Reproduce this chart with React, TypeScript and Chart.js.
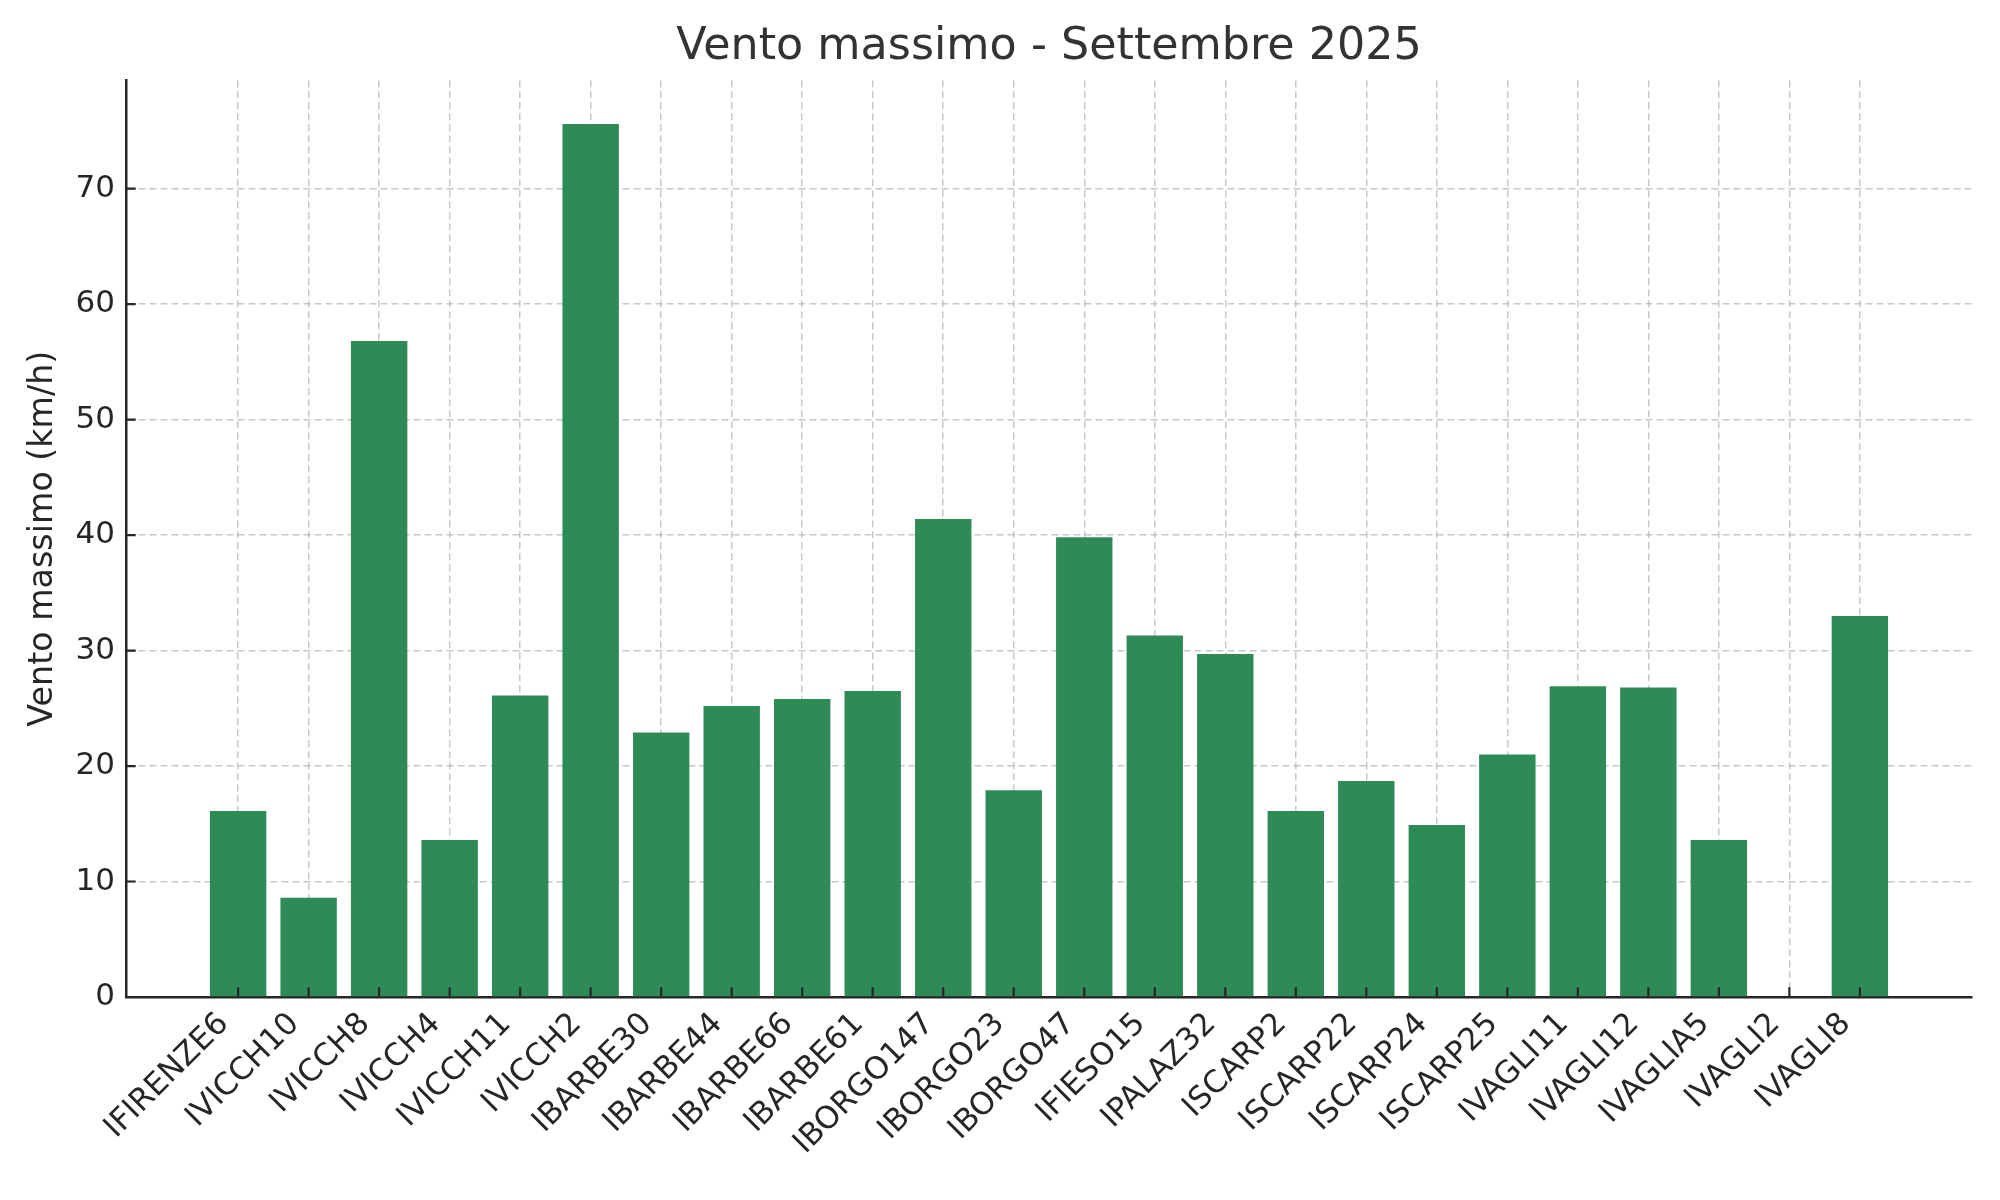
import { useEffect, useRef } from "react";
import { Chart, registerables, type ChartConfiguration, type Plugin } from "chart.js";

Chart.register(...registerables);

// Stations (x categories)
const stations = [
  "IFIRENZE6", "IVICCH10", "IVICCH8", "IVICCH4", "IVICCH11", "IVICCH2",
  "IBARBE30", "IBARBE44", "IBARBE66", "IBARBE61", "IBORGO147", "IBORGO23",
  "IBORGO47", "IFIESO15", "IPALAZ32", "ISCARP2", "ISCARP22", "ISCARP24",
  "ISCARP25", "IVAGLI11", "IVAGLI12", "IVAGLIA5", "IVAGLI2", "IVAGLI8",
];

// Max wind in km/h (IVAGLI2 has no value)
const maxWind: (number | null)[] = [
  16.1, 8.6, 56.8, 13.6, 26.1, 75.6,
  22.9, 25.2, 25.8, 26.5, 41.4, 17.9,
  39.8, 31.3, 29.7, 16.1, 18.7, 14.9,
  21.0, 26.9, 26.8, 13.6, null, 33.0,
];

const yTickValues = [0, 10, 20, 30, 40, 50, 60, 70];

const FONT = "'DejaVu Sans', sans-serif";
const INK = "#262626";
const GRID = "rgba(176, 176, 176, 0.7)";
const BAR = "#2E8B57";

// matplotlib-like limits: 5% margin around the bars
const BAR_W = 0.8;
const span = stations.length - 1 + BAR_W;
const xMin = -BAR_W / 2 - span * 0.05;
const xMax = stations.length - 1 + BAR_W / 2 + span * 0.05;
const yMax = Math.max(...maxWind.map((v) => v ?? 0)) * 1.05;

// ticks pointing inward, like direction="in"
const innerTicks: Plugin<"bar"> = {
  id: "innerTicks",
  afterDraw(chart) {
    const { ctx, chartArea, scales } = chart;
    const len = 9.7;
    ctx.save();
    ctx.strokeStyle = INK;
    ctx.lineWidth = 2.2;
    ctx.beginPath();
    scales.x.ticks.forEach((t) => {
      const px = scales.x.getPixelForValue(t.value);
      ctx.moveTo(px, chartArea.bottom);
      ctx.lineTo(px, chartArea.bottom - len);
    });
    scales.y.ticks.forEach((t) => {
      const py = scales.y.getPixelForValue(t.value);
      ctx.moveTo(chartArea.left, py);
      ctx.lineTo(chartArea.left + len, py);
    });
    ctx.stroke();
    ctx.restore();
  },
};

export default function App() {
  const canvasRef = useRef<HTMLCanvasElement>(null);
  const chartRef = useRef<Chart | null>(null);

  useEffect(() => {
    if (!canvasRef.current) return;
    const ctx = canvasRef.current.getContext("2d");
    if (!ctx) return;

    if (chartRef.current) {
      chartRef.current.destroy();
    }

    const config: ChartConfiguration<"bar"> = {
      type: "bar",
      data: {
        datasets: [
          {
            data: maxWind.map((v, i) => ({ x: i, y: v })) as any,
            backgroundColor: BAR,
            borderWidth: 0,
            barPercentage: 1,
            categoryPercentage: BAR_W,
          },
        ],
      },
      options: {
        animation: false,
        responsive: true,
        maintainAspectRatio: false,
        events: [],
        layout: { padding: { left: 0, right: 28, top: 0, bottom: 0 } },
        plugins: {
          legend: { display: false },
          tooltip: { enabled: false },
          title: {
            display: true,
            fullSize: false,
            text: "Vento massimo - Settembre 2025",
            color: "#333333",
            font: { family: FONT, size: 44.4, weight: "normal" },
            padding: { top: 21, bottom: 6 },
          },
        },
        scales: {
          x: {
            type: "linear",
            min: xMin,
            max: xMax,
            offset: false,
            z: 1,
            grid: { color: GRID, lineWidth: 1.5, drawTicks: false, offset: false },
            border: { display: true, color: INK, width: 2.5, dash: [7, 4] },
            ticks: {
              autoSkip: false,
              minRotation: 45,
              maxRotation: 45,
              padding: 9,
              labelOffset: -14,
              color: INK,
              font: { family: FONT, size: 31 },
              callback: (v) => stations[v as number] ?? "",
            },
            afterBuildTicks: (axis) => {
              axis.ticks = stations.map((_, i) => ({ value: i }));
            },
            afterFit: (axis) => {
              axis.height = 203;
            },
          },
          y: {
            min: 0,
            max: yMax,
            z: 1,
            grid: { color: GRID, lineWidth: 1.5, drawTicks: false },
            border: { display: true, color: INK, width: 2.5, dash: [7, 4] },
            ticks: {
              padding: 11,
              color: INK,
              font: { family: FONT, size: 31 },
            },
            afterBuildTicks: (axis) => {
              axis.ticks = yTickValues.map((v) => ({ value: v }));
            },
            title: {
              display: true,
              text: "Vento massimo (km/h)",
              color: INK,
              font: { family: FONT, size: 33.3 },
              padding: { top: 23, bottom: 0 },
            },
            afterFit: (axis) => {
              axis.width = 126;
            },
          },
        },
      },
      plugins: [innerTicks],
    };

    chartRef.current = new Chart(ctx, config);

    return () => {
      if (chartRef.current) {
        chartRef.current.destroy();
        chartRef.current = null;
      }
    };
  }, []);

  return (
    <div style={{ position: "absolute", left: 0, top: 0, width: 2000, height: 1200, background: "#fff" }}>
      <canvas ref={canvasRef} />
    </div>
  );
}
